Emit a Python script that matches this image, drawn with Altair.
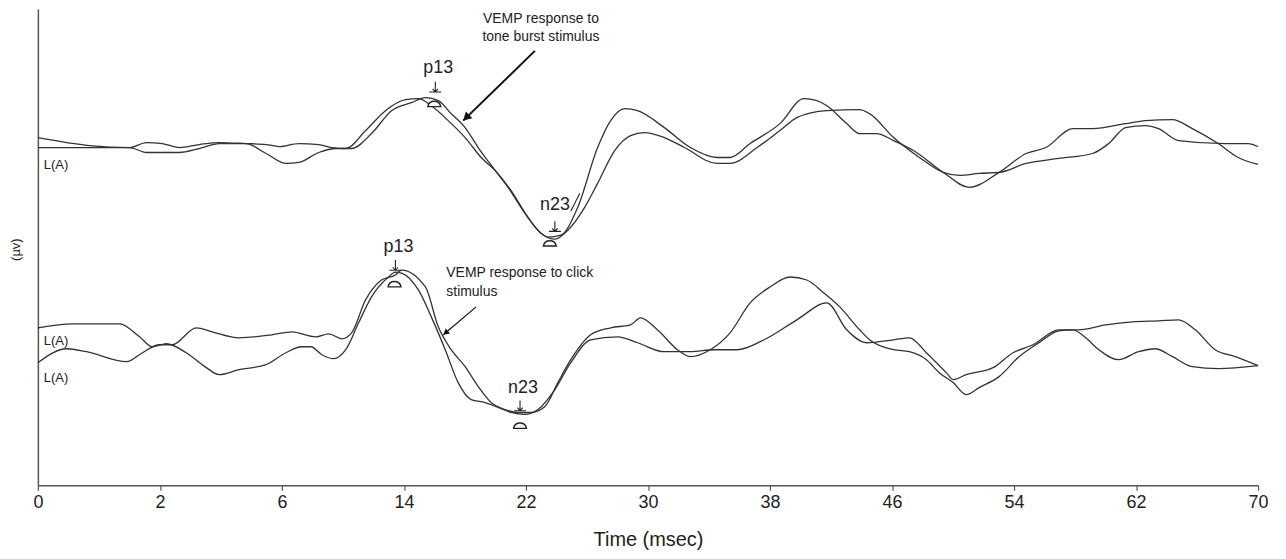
import json
import altair as alt
import pandas as pd

# ---------------- data ----------------
# x: time position (axis positions 0..70, labelled with the printed tick texts)
# y: amplitude in arbitrary units (no scale printed)
TICK_POS = [0, 7, 14, 21, 28, 35, 42, 49, 56, 63, 70]
TICK_LABELS = ["0", "2", "6", "14", "22", "30", "38", "46", "54", "62", "70"]

# tone-burst VEMP, trace 1
U1_T = [0, 2.97, 5.26, 6.23, 7.14, 8.11, 9.26, 10.4, 11.94, 13.09,
        13.83, 14.97, 16.11, 16.86, 17.66, 18.8, 19.94, 21.09, 21.83, 22.57,
        23.54, 24.51, 25.43, 26.23, 27.14, 28.11, 28.86, 29.26, 30, 30.97,
        32.11, 32.86, 33.66, 34.4, 35.94, 37.43, 38.97, 39.71, 40.86, 42.57,
        43.94, 44.69, 45.26, 46.4, 47.14, 48.11, 49.09, 50.23, 51.94, 53.43,
        55.14, 56.69, 57.83, 59.37, 60.51, 62.4, 63.54, 65.09, 66.23, 67.71,
        68.86, 70]
U1_V = [34.9, 34.1, 33.9, 34.4, 34.3, 33.9, 34.2, 34.4, 34.3, 34.2,
        34.0, 34.3, 34.2, 33.9, 33.8, 35.6, 37.6, 38.7, 38.8, 38.1,
        36.6, 34.9, 32.9, 31.6, 29.6, 26.9, 25.3, 24.9, 25.1, 27.9,
        33.9, 36.6, 37.8, 37.6, 35.9, 33.9, 32.9, 32.9, 34.3, 36.3,
        38.8, 38.6, 38.1, 36.3, 35.3, 35.3, 34.6, 33.6, 31.4, 29.9,
        31.4, 33.3, 33.9, 35.8, 35.8, 36.3, 36.6, 36.7, 35.8, 34.3,
        32.9, 32.2]

# tone-burst VEMP, trace 2
U2_T = [0, 1.66, 3.37, 5.26, 6.23, 8.11, 9.26, 10.4, 11.94, 13.09,
        14.23, 14.97, 16.11, 17.09, 18, 19.14, 20.29, 21.43, 22.23, 22.97,
        23.71, 24.51, 25.26, 26.23, 26.97, 27.94, 28.86, 29.66, 30.4, 31.37,
        32.11, 33.09, 34, 34.8, 35.94, 37.09, 38.97, 39.71, 41.26, 42.57,
        43.54, 45.26, 47.14, 47.71, 49.09, 50.57, 51.94, 52.86, 54, 55.14,
        56.69, 58.57, 60.51, 61.43, 62.4, 63.54, 64.29, 65.43, 68.11, 69.43,
        70]
U2_V = [33.9, 33.9, 33.9, 33.9, 33.4, 33.4, 33.8, 34.3, 34.3, 33.3,
        32.3, 32.4, 33.4, 33.8, 33.8, 35.3, 37.6, 38.4, 38.9, 38.6,
        37.3, 35.9, 33.9, 31.6, 29.9, 27.3, 25.3, 24.7, 25.6, 27.9,
        30.3, 33.6, 35.1, 35.4, 34.9, 33.9, 32.3, 32.3, 33.9, 35.6,
        36.9, 37.6, 37.7, 37.3, 34.9, 32.9, 31.4, 31.1, 31.3, 31.4,
        32.3, 32.8, 33.3, 34.3, 35.9, 36.1, 35.8, 34.6, 34.3, 34.3,
        34.0]

# click VEMP, trace 1
L1_T = [0, 2, 4.69, 5.83, 6.57, 7.37, 8.51, 9.66, 10.4, 11.54,
        13.09, 14.23, 15.14, 15.66, 16.29, 16.97, 17.66, 18.4, 19.14, 20.11,
        20.51, 20.86, 21.83, 22.57, 23.37, 24.11, 24.86, 25.66, 26.4, 27.14,
        27.94, 28.69, 29.66, 30.57, 31.71, 33.26, 34.4, 35.94, 37.43, 38.8,
        40.11, 41.66, 43.54, 45.26, 46.4, 47.54, 49.09, 50, 50.97, 52.11,
        52.51, 53.26, 54.8, 55.94, 57.09, 58.57, 59.71, 61.26, 62.8, 64.29,
        65.43, 66.4, 67.54, 68.69, 70]
L1_V = [15.8, 16.2, 16.2, 14.9, 13.9, 14.2, 13.3, 11.8, 11.1, 11.6,
        12.1, 13.3, 13.9, 13.9, 13.1, 12.7, 13.6, 16.3, 18.9, 20.9,
        21.4, 21.3, 19.6, 16.9, 13.6, 10.3, 8.6, 8.3, 7.8, 7.3,
        7.1, 7.6, 9.6, 12.3, 14.6, 14.9, 14.3, 13.4, 13.4, 13.6,
        13.6, 14.6, 16.6, 18.3, 15.6, 14.3, 14.6, 14.8, 13.3, 11.3,
        10.6, 11.1, 11.8, 13.3, 14.1, 15.6, 15.6, 16.1, 16.4, 16.5,
        16.6, 15.6, 13.6, 12.9, 12.0]

# click VEMP, trace 2
L2_T = [0, 1.66, 2.8, 5.09, 6, 6.97, 7.71, 9.09, 10, 11.54,
        13.43, 14.57, 15.94, 16.69, 17.43, 18, 18.8, 19.71, 20.51, 20.86,
        22.23, 22.97, 23.71, 24.51, 25.26, 26, 26.8, 27.54, 28.29, 29.09,
        29.83, 30.57, 31.71, 32.86, 34, 34.57, 35.54, 36.69, 37.43, 38.57,
        39.71, 40.86, 42, 43.14, 44.11, 45.09, 46, 47.14, 47.71, 49.09,
        50, 50.97, 51.71, 52.51, 53.26, 54, 55.14, 56.29, 57.43, 58.57,
        59.37, 60.11, 60.86, 62, 63.14, 64.11, 65.09, 66.23, 67.71, 70]
L2_V = [12.3, 13.7, 13.4, 12.4, 13.3, 14.1, 14.1, 15.8, 15.4, 14.8,
        15.1, 15.4, 14.9, 15.2, 14.7, 15.3, 18.6, 20.6, 21.1, 21.6,
        19.9, 15.9, 13.6, 11.9, 9.9, 8.3, 7.6, 7.3, 7.3, 7.9,
        10.3, 12.6, 15.1, 15.8, 16.1, 16.8, 15.6, 13.6, 12.9, 13.6,
        15.3, 18.3, 19.9, 20.9, 20.6, 19.3, 17.9, 15.6, 14.6, 13.6,
        13.4, 12.6, 11.3, 10.3, 9.1, 9.8, 10.9, 12.9, 14.3, 15.5,
        15.6, 14.8, 13.6, 12.6, 13.4, 13.7, 12.9, 11.9, 11.7, 12.0]

# peak labels
PEAK_TEXT = ["p13", "n23", "p13", "n23"]
PEAK_T = [22.97, 29.66, 20.69, 27.83]
PEAK_V = [41.9, 28.1, 23.9, 9.8]
# peak cursor (down tick) and dome marker positions
CUR_T = [22.8, 29.66, 20.51, 27.66]
CUR_V = [39.9, 25.9, 22.0, 7.9]
DOME_T = [22.74, 29.37, 20.46, 27.66]
DOME_V = [38.3, 24.3, 20.2, 6.0]

# channel labels
CH_TEXT = ["L(A)", "L(A)", "L(A)"]
CH_T = [0.34, 0.34, 0.34]
CH_V = [32.1, 14.5, 10.8]

# annotations
ANN1_TEXT = ["VEMP response to", "tone burst stimulus"]
ANN1_T = [28.86, 28.86]
ANN1_V = [46.8, 45.0]
ANN2_TEXT = ["VEMP response to click", "stimulus"]
ANN2_T = [23.43, 23.43]
ANN2_V = [21.3, 19.4]

# arrows: start -> tip
ARR_T0 = [28.51, 25.14]
ARR_V0 = [43.6, 17.9]
ARR_T1 = [24.4, 23.26]
ARR_V1 = [36.6, 15.1]
HEAD_T = [24.57, 23.39]
HEAD_V = [36.9, 15.3]
HEAD_ANGLE = [226, 230]
# small pointer next to upper n23
PTR_T0, PTR_V0, PTR_T1, PTR_V1 = [30.57], [27.5], [31.09], [29.3]

# ---------------- build tables ----------------
rows = []
for name, ts, vs in [("tone1", U1_T, U1_V), ("tone2", U2_T, U2_V),
                     ("click1", L1_T, L1_V), ("click2", L2_T, L2_V)]:
    for t, v in zip(ts, vs):
        rows.append({"series": name, "t": t, "v": v})
traces = pd.DataFrame(rows)

peaks = pd.DataFrame({"text": PEAK_TEXT, "t": PEAK_T, "v": PEAK_V})
curs = pd.DataFrame({"t": CUR_T, "v": CUR_V})
domes = pd.DataFrame({"t": DOME_T, "v": DOME_V})
chans = pd.DataFrame({"text": CH_TEXT, "t": CH_T, "v": CH_V})
ann1 = pd.DataFrame({"text": ANN1_TEXT, "t": ANN1_T, "v": ANN1_V})
ann2 = pd.DataFrame({"text": ANN2_TEXT, "t": ANN2_T, "v": ANN2_V})
arrows = pd.DataFrame({"t": ARR_T0, "v": ARR_V0, "t1": ARR_T1, "v1": ARR_V1,
                       "w": [2.0, 1.2]})
heads = pd.DataFrame({"t": HEAD_T, "v": HEAD_V, "ang": HEAD_ANGLE, "s": [90, 45]})
ptr = pd.DataFrame({"t": PTR_T0, "v": PTR_V0, "t1": PTR_T1, "v1": PTR_V1})

FONT = "Liberation Sans"
INK = "#222222"

xs = alt.Scale(domain=[0, 70], nice=False, zero=False)
ys = alt.Scale(domain=[0, 47.8], nice=False, zero=False)

label_expr = json.dumps(TICK_LABELS) + "[round(datum.value / 7)]"

x_axis = alt.Axis(values=TICK_POS, labelExpr=label_expr, title="Time (msec)",
                  grid=False, tickSize=5, tickColor="#555", domainColor="#555",
                  domainWidth=1.5, tickWidth=1.2, labelFont=FONT, labelFontSize=18,
                  labelColor=INK, labelPadding=3, labelFlush=False,
                  labelOverlap=False, titleFont=FONT, titleFontSize=20,
                  titleFontWeight="normal", titleColor=INK, titleY=55,
                  titleBaseline="middle")
y_axis = alt.Axis(title="(µv)", labels=False, ticks=False, grid=False,
                  domainColor="#555", domainWidth=1.5, titleFont=FONT,
                  titleFontSize=13, titleFontWeight="normal", titleColor=INK,
                  titleX=-22, titleY=241, titleAngle=-90, titleAlign="center",
                  titleBaseline="middle")


def X(f="t"):
    return alt.X(f + ":Q", scale=xs, axis=x_axis)


def Y(f="v"):
    return alt.Y(f + ":Q", scale=ys, axis=y_axis)


lines = alt.Chart(traces).mark_line(color="#333333", strokeWidth=1.3,
                                    interpolate="monotone").encode(
    x=X(), y=Y(), detail="series:N",
)

peak_txt = alt.Chart(peaks).mark_text(font=FONT, fontSize=18, color=INK,
                                      align="center", baseline="middle").encode(
    x=X(), y=Y(), text="text:N")

CUR_PATH = "M0,-1L0,0.7M-1,0.7L1,0.7M-0.45,0.2L0,0.7L0.45,0.2"
cursor = alt.Chart(curs).mark_point(shape=CUR_PATH, size=144, filled=False,
                                    color=INK, strokeWidth=1.1, opacity=1).encode(
    x=X(), y=Y())

DOME_PATH = "M-1,0.45C-0.8,-0.65,0.8,-0.65,1,0.45Z"
dome = alt.Chart(domes).mark_point(shape=DOME_PATH, size=169, filled=True,
                                   fill="white", stroke=INK, strokeWidth=1.4,
                                   opacity=1).encode(x=X(), y=Y())

chan_txt = alt.Chart(chans).mark_text(font=FONT, fontSize=13, color=INK,
                                      align="left", baseline="middle").encode(
    x=X(), y=Y(), text="text:N")

ann1_txt = alt.Chart(ann1).mark_text(font=FONT, fontSize=14, color=INK,
                                     align="center", baseline="middle").encode(
    x=X(), y=Y(), text="text:N")
ann2_txt = alt.Chart(ann2).mark_text(font=FONT, fontSize=14, color=INK,
                                     align="left", baseline="middle").encode(
    x=X(), y=Y(), text="text:N")

arrow_lines = alt.Chart(arrows).mark_rule(color="#111111").encode(
    x=X(), y=Y(), x2="t1:Q", y2="v1:Q",
    strokeWidth=alt.StrokeWidth("w:Q", scale=None))
arrow_heads = alt.Chart(heads).mark_point(shape="triangle-up", filled=True,
                                          color="#111111", opacity=1).encode(
    x=X(), y=Y(), angle=alt.Angle("ang:Q", scale=None),
    size=alt.Size("s:Q", scale=None))
pointer = alt.Chart(ptr).mark_rule(color=INK, strokeWidth=1.1).encode(
    x=X(), y=Y(), x2="t1:Q", y2="v1:Q")

chart = alt.layer(
    lines, peak_txt, cursor, dome, chan_txt, ann1_txt, ann2_txt,
    arrow_lines, arrow_heads, pointer,
).properties(
    width=1225, height=478,
    autosize=alt.AutoSizeParams(type="none"),
    padding={"left": 30, "top": 0, "right": 20, "bottom": 68},
    background="white",
).configure_view(stroke=None)

chart.save("out.html", embed_options={"renderer": "svg", "actions": False})
